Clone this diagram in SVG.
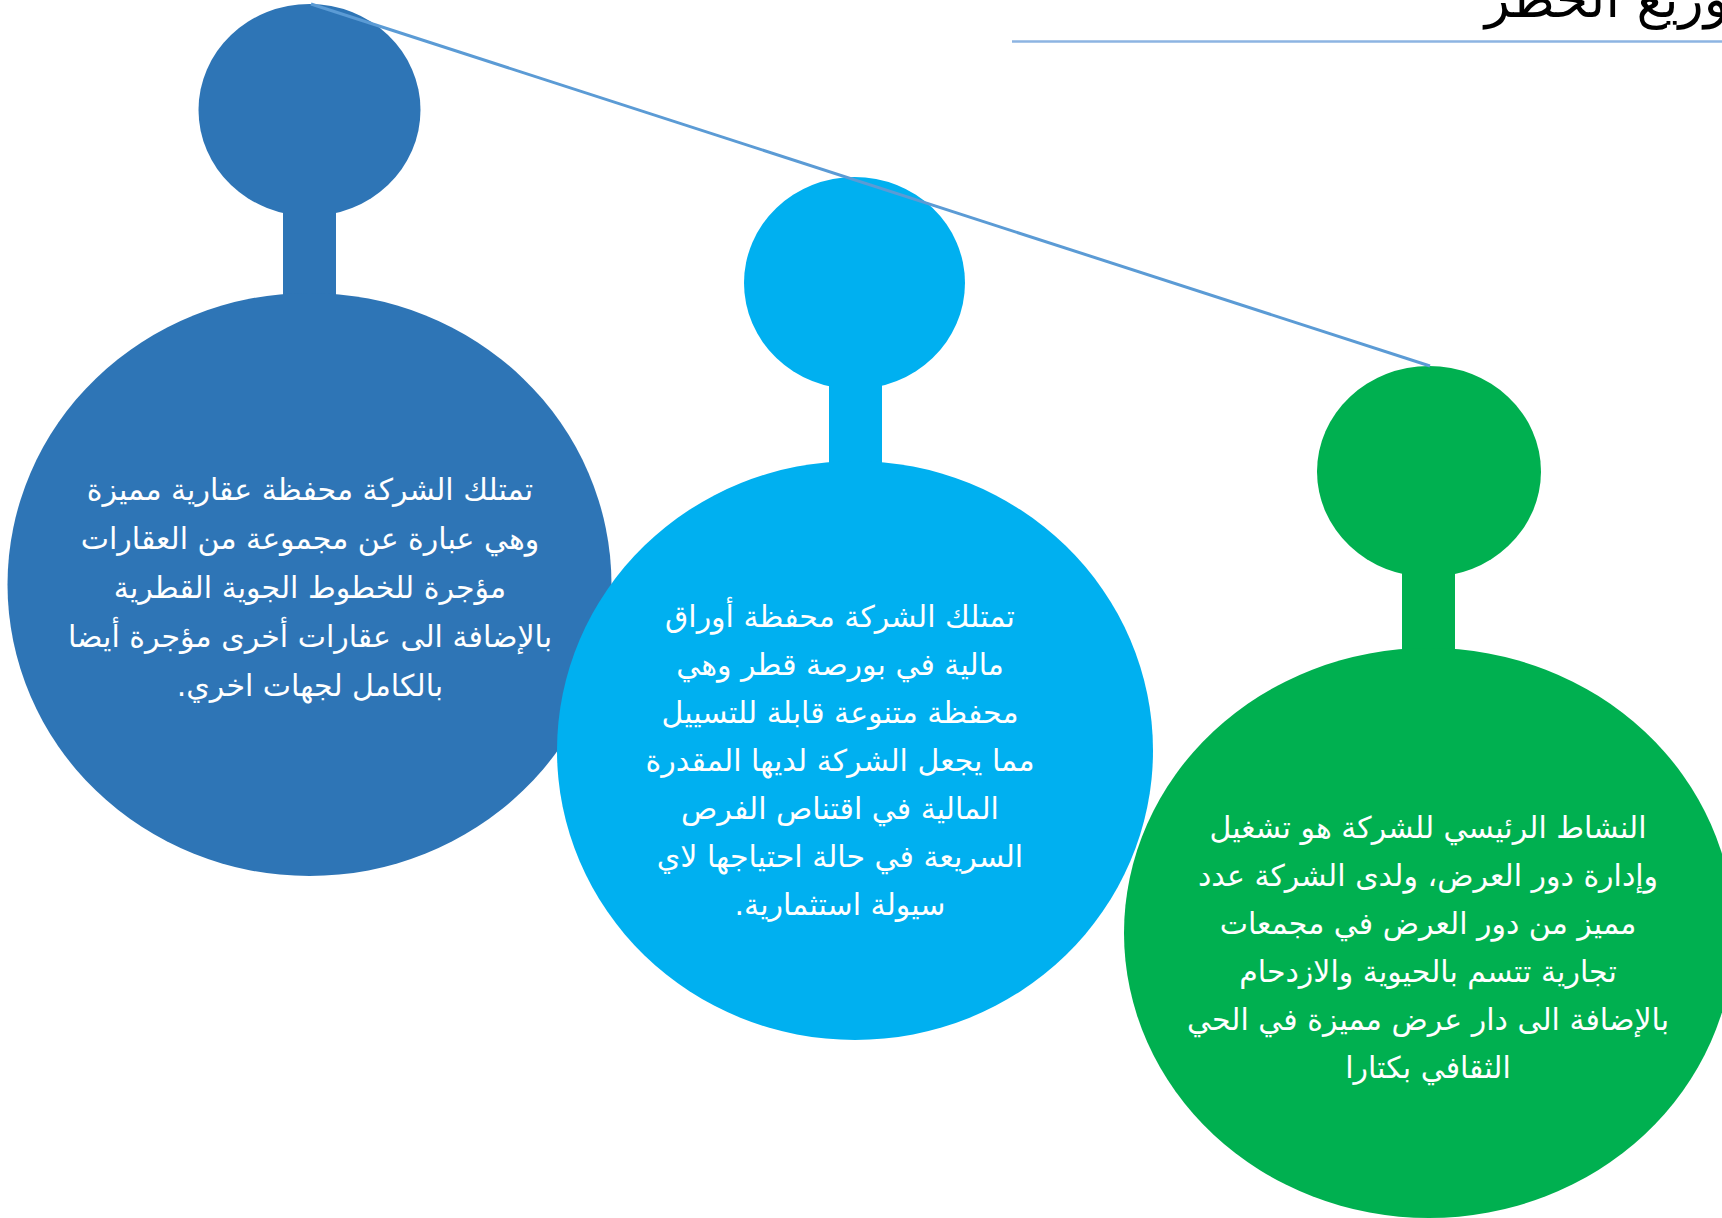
<svg xmlns="http://www.w3.org/2000/svg" width="1722" height="1218" viewBox="0 0 1722 1218">
<style>
.t{font-family:"DejaVu Sans","Noto Sans",sans-serif;font-size:30px;fill:#ffffff;text-anchor:middle;direction:rtl}
.title{font-family:"DejaVu Sans","Noto Sans",sans-serif;font-size:52px;fill:#000000;text-anchor:end}
.n1{fill:#2E75B6}
.n2{fill:#00B0F0}
.n3{fill:#00B050}
</style>
<rect width="1722" height="1218" fill="#ffffff"/>
<text class="title" x="1745" y="17">توزيع الخطر</text>
<line x1="1012" y1="41.5" x2="1722" y2="41.5" stroke="#8DB4E2" stroke-width="2.5"/>
<g id="node1">
<ellipse class="n1" cx="309.5" cy="110" rx="111" ry="106"/>
<rect class="n1" x="283" y="200" width="53" height="100"/>
<ellipse class="n1" cx="309.5" cy="584.5" rx="302" ry="291.5"/>
<text class="t" x="310" y="500">تمتلك الشركة  محفظة عقارية مميزة</text>
<text class="t" x="310" y="549">وهي عبارة عن مجموعة من العقارات</text>
<text class="t" x="310" y="598">مؤجرة للخطوط الجوية القطرية</text>
<text class="t" x="310" y="647">بالإضافة الى عقارات أخرى مؤجرة أيضا</text>
<text class="t" x="310" y="696">بالكامل لجهات اخري.</text>
</g>
<g id="node2">
<ellipse class="n2" cx="854.5" cy="283" rx="110.5" ry="106"/>
<rect class="n2" x="829" y="375" width="53" height="95"/>
<ellipse class="n2" cx="855" cy="750.5" rx="298" ry="289.5"/>
<text class="t" x="840" y="627">تمتلك الشركة محفظة أوراق</text>
<text class="t" x="840" y="675">مالية في بورصة قطر  وهي</text>
<text class="t" x="840" y="723">محفظة متنوعة قابلة للتسييل</text>
<text class="t" x="840" y="771">مما يجعل الشركة لديها المقدرة</text>
<text class="t" x="840" y="819">المالية في اقتناص الفرص</text>
<text class="t" x="840" y="867">السريعة في حالة احتياجها لاي</text>
<text class="t" x="840" y="915">سيولة استثمارية.</text>
</g>
<g id="node3">
<ellipse class="n3" cx="1429" cy="471.5" rx="112" ry="105.5"/>
<rect class="n3" x="1402" y="565" width="53" height="95"/>
<ellipse class="n3" cx="1429" cy="933" rx="305" ry="285"/>
<text class="t" x="1428" y="838">النشاط الرئيسي للشركة هو تشغيل</text>
<text class="t" x="1428" y="886">وإدارة دور العرض، ولدى الشركة عدد</text>
<text class="t" x="1428" y="934">مميز من دور العرض في مجمعات</text>
<text class="t" x="1428" y="982">تجارية تتسم بالحيوية والازدحام</text>
<text class="t" x="1428" y="1030">بالإضافة الى دار عرض مميزة في الحي</text>
<text class="t" x="1428" y="1078">الثقافي بكتارا</text>
</g>
<g id="connectors">
<line x1="311" y1="4" x2="1430" y2="366" stroke="#5B9BD5" stroke-width="3"/>
</g>
</svg>
